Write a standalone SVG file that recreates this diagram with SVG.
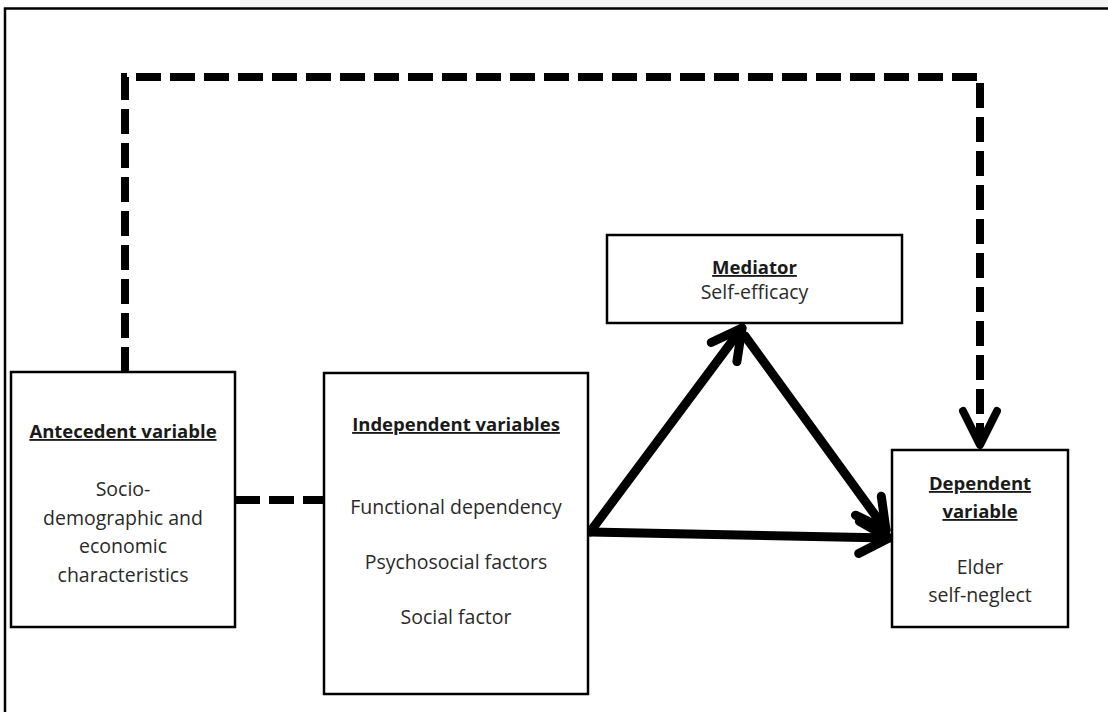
<svg xmlns="http://www.w3.org/2000/svg" width="1108" height="712" viewBox="0 0 1108 712">
  <style>
    .box { fill: #ffffff; stroke: #000000; stroke-width: 2.5; }
    .head { font-family: "Open Sans", "Liberation Sans", sans-serif; font-weight: bold; font-size: 18.5px; fill: #1a1a1a; text-anchor: middle; text-decoration: underline; }
    .body { font-family: "Open Sans", "Liberation Sans", sans-serif; font-size: 19.5px; fill: #2a2a2a; text-anchor: middle; }
    .solid { fill: none; stroke: #000000; stroke-width: 9; stroke-linecap: round; stroke-linejoin: round; }
    .dash { fill: none; stroke: #000000; stroke-width: 8; stroke-linecap: butt; stroke-dasharray: 25 9; }
    .frame { fill: none; stroke: #000000; stroke-width: 2.5; }
  </style>
  <defs>
    <marker id="chev" markerUnits="userSpaceOnUse" viewBox="-40 -40 80 80" markerWidth="80" markerHeight="80" refX="0" refY="0" orient="auto" overflow="visible">
      <path d="M-30,-16 L0,0 L-30,16" fill="none" stroke="#000000" stroke-width="9" stroke-linecap="round" stroke-linejoin="round" stroke-dasharray="none"/>
    </marker>
    <marker id="chevd" markerUnits="userSpaceOnUse" viewBox="-40 -40 80 80" markerWidth="80" markerHeight="80" refX="0" refY="0" orient="auto" overflow="visible">
      <path d="M-34,-17 L0,0 L-34,17" fill="none" stroke="#000000" stroke-width="8" stroke-linecap="round" stroke-linejoin="round" stroke-dasharray="none"/>
    </marker>
  </defs>
  <rect x="0" y="0" width="1108" height="712" fill="#ffffff"/>
  <rect x="240" y="0" width="868" height="8" fill="#f2f3f2"/>
  <g id="frame">
    <path class="frame" d="M5,712 L5,8.5 L1108,8.5"/>
  </g>
  <g id="connectors">
    <path class="dash" d="M125,372 L125,77 L980,77 L980,445" marker-end="url(#chevd)"/>
    <path class="dash" d="M235,500 L324,500"/>
    <path class="solid" d="M590,532 L742,328" marker-end="url(#chev)"/>
    <path class="solid" d="M745,336 L886,530" marker-end="url(#chev)"/>
    <path class="solid" d="M590,532 L889,538" marker-end="url(#chev)"/>
  </g>
  <g id="antecedent">
    <rect class="box" x="11" y="372" width="224" height="255"/>
    <text class="head" x="123" y="438">Antecedent variable</text>
    <text class="body" x="123" y="496">Socio-</text>
    <text class="body" x="123" y="525">demographic and</text>
    <text class="body" x="123" y="553">economic</text>
    <text class="body" x="123" y="582">characteristics</text>
  </g>
  <g id="independent">
    <rect class="box" x="324" y="373" width="264" height="321"/>
    <text class="head" x="456" y="431">Independent variables</text>
    <text class="body" x="456" y="514">Functional dependency</text>
    <text class="body" x="456" y="569">Psychosocial factors</text>
    <text class="body" x="456" y="624">Social factor</text>
  </g>
  <g id="mediator">
    <rect class="box" x="607" y="235" width="295" height="88"/>
    <text class="head" x="754.5" y="274">Mediator</text>
    <text class="body" x="754.5" y="299">Self-efficacy</text>
  </g>
  <g id="dependent">
    <rect class="box" x="892" y="450" width="176" height="177"/>
    <text class="head" x="980" y="490">Dependent</text>
    <text class="head" x="980" y="518">variable</text>
    <text class="body" x="980" y="574">Elder</text>
    <text class="body" x="980" y="602">self-neglect</text>
  </g>
</svg>
